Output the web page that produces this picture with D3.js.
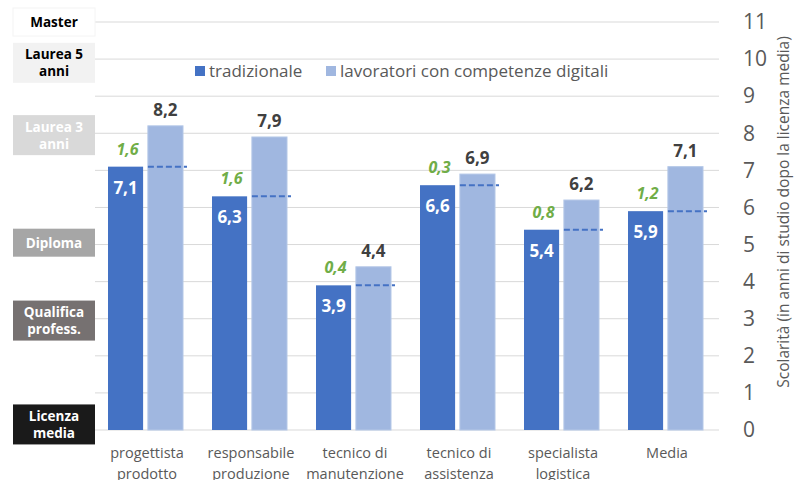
<!DOCTYPE html>
<html>
<head>
<meta charset="utf-8">
<script src="https://cdn.jsdelivr.net/npm/d3@7"></script>
<style>
  body { margin: 0; background: #fff; }
  text { font-family: "Open Sans", sans-serif; }
</style>
</head>
<body>
<script>
var categories = [["progettista", "prodotto"], ["responsabile", "produzione"], ["tecnico di", "manutenzione"],
                  ["tecnico di", "assistenza"], ["specialista", "logistica"], ["Media"]];
var tradizionale = [7.1, 6.3, 3.9, 6.6, 5.4, 5.9];
var digitali = [8.2, 7.9, 4.4, 6.9, 6.2, 7.1];
var gaps = [1.6, 1.6, 0.4, 0.3, 0.8, 1.2];
var seriesNames = ["tradizionale", "lavoratori con competenze digitali"];
var yTicks = [0, 1, 2, 3, 4, 5, 6, 7, 8, 9, 10, 11];
var levels = [
  {label: ["Master"], y: 11, bg: "#ffffff", fg: "#000000"},
  {label: ["Laurea 5", "anni"], y: 9.9, bg: "#f2f2f2", fg: "#000000"},
  {label: ["Laurea 3", "anni"], y: 7.95, bg: "#d9d9d9", fg: "#ffffff"},
  {label: ["Diploma"], y: 5.05, bg: "#a6a6a6", fg: "#ffffff"},
  {label: ["Qualifica", "profess."], y: 2.95, bg: "#767171", fg: "#ffffff"},
  {label: ["Licenza", "media"], y: 0.15, bg: "#1a1a1a", fg: "#ffffff"}
];

var colTrad = "#4472c4", colDig = "#a0b7e0";
var fmt = function (v) { return d3.format(".1f")(v).replace(".", ","); };

var svg = d3.select("body").append("svg")
  .attr("width", 795)
  .attr("height", 480);

var y = d3.scaleLinear().domain([0, 11]).range([430, 22]);
var x = d3.scaleBand().domain(d3.range(categories.length)).range([95, 719]);
var xIn = d3.scaleBand().domain([0, 1]).range([13, 88]).paddingInner(0.12);

// gridlines
svg.selectAll("line.grid")
  .data(yTicks)
  .enter().append("line")
  .attr("class", "grid")
  .attr("x1", 95).attr("x2", 719)
  .attr("y1", function (d) { return y(d); })
  .attr("y2", function (d) { return y(d); })
  .style("stroke", "#d9d9d9")
  .style("stroke-width", 1);

// right axis
var axis = svg.append("g")
  .attr("transform", "translate(737,0)")
  .call(d3.axisRight(y).tickValues(yTicks).tickSize(0).tickPadding(6));
axis.select(".domain").remove();
axis.selectAll("text")
  .style("font-size", "21px")
  .style("fill", "#595959")
  .style("font-family", "'Open Sans', sans-serif");

svg.append("text")
  .attr("transform", "translate(789,212) rotate(-90)")
  .attr("text-anchor", "middle")
  .style("font-size", "15.5px")
  .style("fill", "#595959")
  .text("Scolarità (in anni di studio dopo la licenza media)");

// education level boxes
var lv = svg.selectAll("g.level")
  .data(levels)
  .enter().append("g")
  .attr("class", "level")
  .attr("transform", function (d) { return "translate(13," + y(d.y) + ")"; });
lv.append("rect")
  .attr("x", 0)
  .attr("y", function (d) { return d.label.length > 1 ? -20 : -14; })
  .attr("width", 82)
  .attr("height", function (d) { return d.label.length > 1 ? 40 : 28; })
  .style("fill", function (d) { return d.bg; })
  .style("stroke", function (d) { return d.bg === "#ffffff" ? "#f4f4f4" : "none"; });
lv.each(function (d) {
  var g = d3.select(this);
  d.label.forEach(function (t, i) {
    g.append("text")
      .attr("x", 41)
      .attr("y", (i - (d.label.length - 1) / 2) * 17 + 5)
      .attr("text-anchor", "middle")
      .style("font-size", "13.5px")
      .style("font-weight", "bold")
      .style("fill", d.fg)
      .text(t);
  });
});

// bars
var groups = svg.selectAll("g.cat")
  .data(categories)
  .enter().append("g")
  .attr("class", "cat")
  .attr("transform", function (d, i) { return "translate(" + x(i) + ",0)"; });

groups.append("rect")
  .attr("x", xIn(0))
  .attr("y", function (d, i) { return y(tradizionale[i]); })
  .attr("width", xIn.bandwidth())
  .attr("height", function (d, i) { return y(0) - y(tradizionale[i]); })
  .style("fill", colTrad);

groups.append("rect")
  .attr("x", xIn(1))
  .attr("y", function (d, i) { return y(digitali[i]); })
  .attr("width", xIn.bandwidth())
  .attr("height", function (d, i) { return y(0) - y(digitali[i]); })
  .style("fill", colDig)
  .style("stroke", "#b4c7e7")
  .style("stroke-width", 1);

// dashed reference line at traditional level
groups.append("line")
  .attr("x1", xIn(1))
  .attr("x2", xIn(1) + xIn.bandwidth() + 4)
  .attr("y1", function (d, i) { return y(tradizionale[i]); })
  .attr("y2", function (d, i) { return y(tradizionale[i]); })
  .style("stroke", colTrad)
  .style("stroke-width", 2)
  .style("stroke-dasharray", "6,3");

// value labels
groups.append("text")
  .attr("x", xIn(0) + xIn.bandwidth() / 2)
  .attr("y", function (d, i) { return y(tradizionale[i]) + 27; })
  .attr("text-anchor", "middle")
  .style("font-size", "17px")
  .style("font-weight", "bold")
  .style("fill", "#ffffff")
  .text(function (d, i) { return fmt(tradizionale[i]); });

groups.append("text")
  .attr("x", xIn(1) + xIn.bandwidth() / 2)
  .attr("y", function (d, i) { return y(digitali[i]) - 10; })
  .attr("text-anchor", "middle")
  .style("font-size", "17px")
  .style("font-weight", "bold")
  .style("fill", "#404040")
  .text(function (d, i) { return fmt(digitali[i]); });

groups.append("text")
  .attr("x", xIn(0) + xIn.bandwidth() / 2 + 2)
  .attr("y", function (d, i) { return y(tradizionale[i]) - 12; })
  .attr("text-anchor", "middle")
  .style("font-size", "16px")
  .style("font-weight", "bold")
  .style("font-style", "italic")
  .style("fill", "#70ad47")
  .text(function (d, i) { return fmt(gaps[i]); });

// category labels
groups.each(function (d) {
  var g = d3.select(this);
  d.forEach(function (t, j) {
    g.append("text")
      .attr("x", x.bandwidth() / 2)
      .attr("y", 458 + j * 21)
      .attr("text-anchor", "middle")
      .style("font-size", "14.5px")
      .style("fill", "#595959")
      .text(t);
  });
});

// legend
var legend = svg.append("g").attr("transform", "translate(195,71)");
var lx = [0, 131];
seriesNames.forEach(function (name, i) {
  legend.append("rect")
    .attr("x", lx[i]).attr("y", -5)
    .attr("width", 10).attr("height", 10)
    .style("fill", i === 0 ? colTrad : colDig);
  legend.append("text")
    .attr("x", lx[i] + 14).attr("y", 6)
    .style("font-size", "17px")
    .style("fill", "#595959")
    .text(name);
});
</script>
</body>
</html>
